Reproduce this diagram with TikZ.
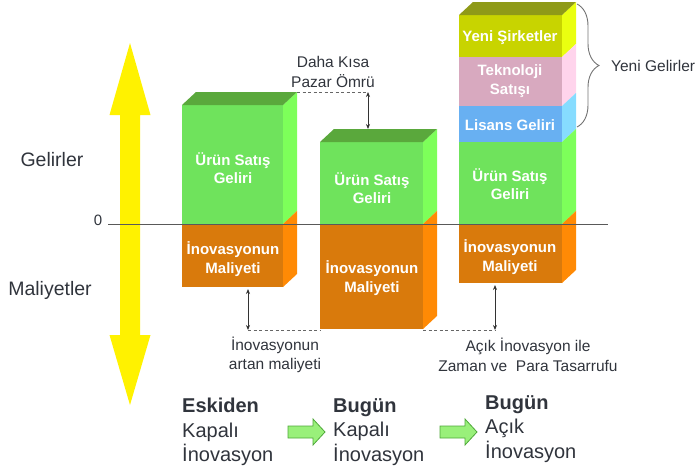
\documentclass[tikz,border=0pt]{standalone}
\usepackage{fontspec}
\setmainfont{Liberation Sans}
\usetikzlibrary{decorations.pathreplacing,arrows.meta}
\definecolor{gfront}{HTML}{6FE35C}
\definecolor{gside}{HTML}{7DFF5A}
\definecolor{gtop}{HTML}{5AA83C}
\definecolor{ofront}{HTML}{D97A0C}
\definecolor{oside}{HTML}{FF8A05}
\definecolor{yfront}{HTML}{C8D400}
\definecolor{yside}{HTML}{EAFF10}
\definecolor{ytop}{HTML}{8F9A18}
\definecolor{pfront}{HTML}{D8A9BF}
\definecolor{pside}{HTML}{FFD4EC}
\definecolor{bfront}{HTML}{68B0F2}
\definecolor{bside}{HTML}{86DCFF}
\definecolor{txt}{HTML}{30343C}
\definecolor{agreen}{HTML}{99F07A}
\definecolor{adark}{HTML}{4FA83A}
\newcommand\myseg[6]{%
  \fill[#5] (#1,#3) rectangle (#2,#4);
  \fill[#6] (#2,#3) -- ++(14,-13) -- (#2+14,#4-13) -- (#2,#4) -- cycle;}
\newcommand\mytop[4]{%
  \fill[#4] (#1,#3) -- ++(14,-13) -- (#2+14,#3-13) -- (#2,#3) -- cycle;}
\tikzset{
  boxlbl/.style={text=white, font=\fontsize{15}{18.5}\selectfont\bfseries, align=center, inner sep=0pt},
  note/.style={text=txt, font=\fontsize{15.5}{19.5}\selectfont, align=center, inner sep=0pt},
  side/.style={text=txt, font=\fontsize{19.5}{22}\selectfont, inner sep=0pt},
  era/.style={text=txt, font=\fontsize{20}{24.5}\selectfont, align=left, anchor=west, inner sep=0pt},
  dim/.style={black!80, line width=0.8pt, {Stealth[length=5pt,width=4pt]}-{Stealth[length=5pt,width=4pt]}},
  dashln/.style={black!60, line width=0.8pt, dash pattern=on 3pt off 2.5pt},
  garrow/.style={fill=agreen, draw=adark, line width=0.8pt}
}
\begin{document}
\begin{tikzpicture}[x=1pt,y=-1pt]
\useasboundingbox (0,0) rectangle (697,472);
% yellow axis arrow
\fill[yellow] (130,43) -- (150.5,115) -- (140,115) -- (140,335) -- (150.5,335) -- (130,405)
  -- (109.5,335) -- (120,335) -- (120,115) -- (109.5,115) -- cycle;
\node[side] (gel) at (52,160) {Gelirler};
\node[side] (mal) at (50,290) {Maliyetler};
\node[text=txt, font=\fontsize{15}{17}\selectfont, inner sep=0pt] (zero) at (98,220) {0};
% box 1
\myseg{182}{283}{105}{224}{gfront}{gside}
\myseg{182}{283}{224}{287}{ofront}{oside}
\mytop{182}{283}{105}{gtop}
% box 2
\myseg{320}{423}{142}{224}{gfront}{gside}
\myseg{320}{423}{224}{329}{ofront}{oside}
\mytop{320}{423}{142}{gtop}
% box 3
\myseg{459}{562}{15}{57}{yfront}{yside}
\myseg{459}{562}{57}{106}{pfront}{pside}
\myseg{459}{562}{106}{142}{bfront}{bside}
\myseg{459}{562}{142}{224}{gfront}{gside}
\myseg{459}{562}{224}{283}{ofront}{oside}
\mytop{459}{562}{15}{ytop}
% zero line
\coordinate (zl) at (108,224);
\coordinate (zr) at (608,224);
\draw[black!65, line width=0.8pt] (zl) -- (zr);
% box labels
\node[boxlbl] (u1) at (233,168) {Ürün Satış\\Geliri};
\node[boxlbl] (i1) at (233,259) {İnovasyonun\\Maliyeti};
\node[boxlbl] (u2) at (372,188) {Ürün Satış\\Geliri};
\node[boxlbl] (i2) at (372,278) {İnovasyonun\\Maliyeti};
\node[boxlbl] (u3) at (510,184) {Ürün Satış\\Geliri};
\node[boxlbl] (i3) at (510,257) {İnovasyonun\\Maliyeti};
\node[boxlbl] (ys) at (510,38) {Yeni Şirketler};
\node[boxlbl] (tk) at (510,81) {Teknoloji\\Satışı};
\node[boxlbl] (lg) at (510,125) {Lisans Geliri};
% Daha kisa pazar omru
\coordinate (b1t) at (297,92);
\coordinate (d1) at (368,92);
\coordinate (b2t) at (368,129);
\draw[dashln] (b1t) -- (d1);
\draw[dim] (d1) -- (b2t);
\node[note] (dk) at (333,72) {Daha Kısa\\Pazar Ömrü};
% bottom dimensions
\coordinate (b1b) at (248,289);
\coordinate (l1) at (248,330);
\coordinate (b2l) at (320,330);
\coordinate (b2r) at (423,330);
\coordinate (l3) at (495,330);
\coordinate (b3b) at (495,285);
\draw[dim] (b1b) -- (l1);
\draw[dashln] (l1) -- (b2l);
\draw[dashln] (b2r) -- (l3);
\draw[dim] (b3b) -- (l3);
\node[note] (art) at (275,355) {İnovasyonun\\artan maliyeti};
\node[note] (tas) at (528,355) {Açık İnovasyon ile\\Zaman ve~~Para Tasarrufu};
% brace
\coordinate (bra) at (577,4);
\coordinate (brb) at (577,127);
\draw[black!55, line width=0.9pt, decorate, decoration={brace, amplitude=22pt, aspect=0.5}] (bra) -- (brb);
\node[note, anchor=west] (yg) at (611,66) {Yeni Gelirler};
% bottom eras
\node[era] (e1) at (182,432) {\textbf{Eskiden}\\Kapalı\\İnovasyon};
\node[era] (e2) at (333,432) {\textbf{Bugün}\\Kapalı\\İnovasyon};
\node[era] (e3) at (485,429) {\textbf{Bugün}\\Açık\\İnovasyon};
\filldraw[garrow] (288,426) -- (313,426) -- (313,419) -- (325,432) -- (313,445) -- (313,438) -- (288,438) -- cycle;
\filldraw[garrow] (440,426) -- (465,426) -- (465,419) -- (477,432) -- (465,445) -- (465,438) -- (440,438) -- cycle;
\end{tikzpicture}
\end{document}
